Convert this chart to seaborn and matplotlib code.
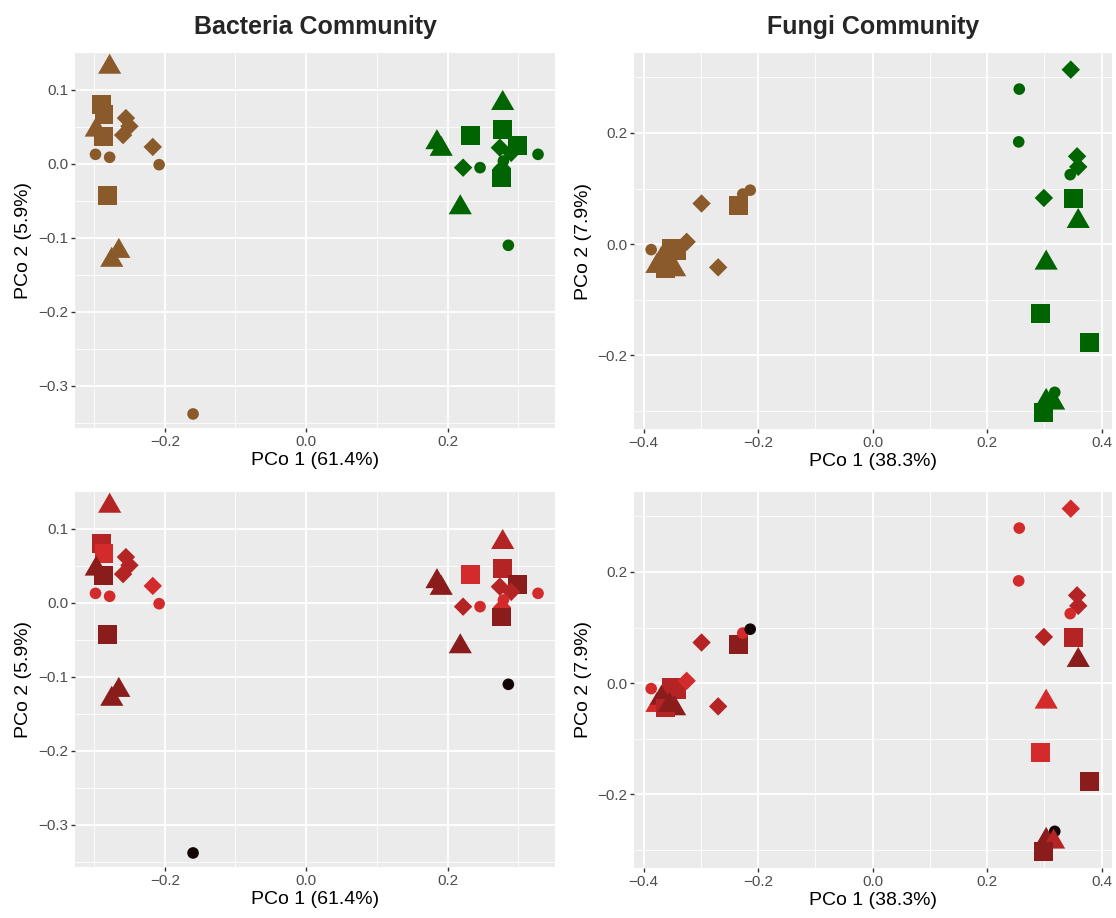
import numpy as np
import pandas as pd
import matplotlib
matplotlib.use("Agg")
import matplotlib.pyplot as plt
import seaborn as sns

# ---------------- data ----------------
# Bacteria community (PCo1 61.4%, PCo2 5.9%)
bac_x = [-0.278, -0.290, -0.286, -0.297, -0.287, -0.255, -0.250, -0.259, -0.217,
         -0.298, -0.278, -0.208, -0.281, -0.265, -0.275, -0.160,
         0.278, 0.278, 0.233, 0.185, 0.191, 0.299, 0.274, 0.290, 0.328,
         0.277, 0.279, 0.222, 0.246, 0.276, 0.218, 0.286]
bac_y = [0.131, 0.080, 0.067, 0.046, 0.037, 0.062, 0.051, 0.039, 0.023,
         0.013, 0.009, -0.001, -0.043, -0.118, -0.130, -0.338,
         0.082, 0.047, 0.038, 0.029, 0.020, 0.025, 0.022, 0.015, 0.013,
         -0.006, 0.004, -0.005, -0.005, -0.019, -0.059, -0.110]
bac_shape = ["tri", "sq", "sq", "tri", "sq", "dia", "dia", "dia", "dia",
             "circ", "circ", "circ", "sq", "tri", "tri", "circ",
             "tri", "sq", "sq", "tri", "tri", "sq", "dia", "dia", "circ",
             "dia", "circ", "dia", "circ", "sq", "tri", "circ"]
bac_group = ["brown"] * 16 + ["green"] * 16
bac_shade = ["m", "m", "b", "d", "d", "m", "m", "m", "b",
             "b", "b", "b", "d", "d", "d", "k",
             "m", "m", "b", "d", "d", "d", "m", "m", "b",
             "b", "b", "m", "b", "d", "d", "k"]

# Fungi community (PCo1 38.3%, PCo2 7.9%)
fun_x = [-0.387, -0.352, -0.343, -0.325, -0.299, -0.270, -0.235, -0.227, -0.214,
         -0.377, -0.369, -0.346, -0.362, -0.355,
         0.346, 0.256, 0.255, 0.357, 0.359, 0.345, 0.299, 0.351, 0.359,
         0.303, 0.293, 0.379, 0.318, 0.303, 0.316, 0.299]
fun_y = [-0.010, -0.008, -0.012, 0.004, 0.073, -0.042, 0.070, 0.090, 0.097,
         -0.040, -0.027, -0.046, -0.045, -0.040,
         0.314, 0.279, 0.184, 0.158, 0.139, 0.125, 0.083, 0.082, 0.041,
         -0.034, -0.125, -0.177, -0.267, -0.283, -0.286, -0.303]
fun_shape = ["circ", "sq", "sq", "dia", "dia", "dia", "sq", "circ", "circ",
             "tri", "tri", "tri", "sq", "tri",
             "dia", "circ", "circ", "dia", "dia", "circ", "dia", "sq", "tri",
             "tri", "sq", "sq", "circ", "tri", "tri", "sq"]
fun_group = ["brown"] * 14 + ["green"] * 16
fun_shade = ["b", "m", "m", "b", "m", "m", "d", "b", "k",
             "b", "d", "d", "m", "d",
             "b", "b", "b", "m", "m", "b", "m", "m", "d",
             "b", "b", "d", "k", "d", "m", "d"]

titles = ["Bacteria Community", "Fungi Community"]
xlabels = ["PCo 1 (61.4%)", "PCo 1 (38.3%)"]
ylabels = ["PCo 2 (5.9%)", "PCo 2 (7.9%)"]

group_pal = {"brown": "#8B5A2B", "green": "#006400"}
shade_pal = {"b": "#D32B2B", "m": "#B42424", "d": "#8B1C1C", "k": "#120606"}

tri_verts = [(0, 0.577), (-0.5, -0.289), (0.5, -0.289), (0, 0.577)]
markers = {"circ": "o", "sq": "s", "dia": "D", "tri": tri_verts}
sizes = {"circ": 70, "sq": 185, "dia": 88, "tri": 370}

bac = pd.DataFrame({"x": bac_x, "y": bac_y, "shape": bac_shape,
                    "group": bac_group, "shade": bac_shade})
fun = pd.DataFrame({"x": fun_x, "y": fun_y, "shape": fun_shape,
                    "group": fun_group, "shade": fun_shade})

# ---------------- figure ----------------
sns.set_theme(style="darkgrid")
plt.rcParams["font.family"] = ["Liberation Sans", "DejaVu Sans"]

W, H = 1116, 918
fig = plt.figure(figsize=(W / 100, H / 100), dpi=100)
fig.patch.set_facecolor("white")


def add_ax(l, r, t, b):
    return fig.add_axes([l / W, 1 - b / H, (r - l) / W, (b - t) / H])


axes = [
    [add_ax(75, 555, 53, 428), add_ax(634, 1112, 53, 429)],
    [add_ax(75, 555, 492, 867), add_ax(634, 1112, 492, 868)],
]

cfg = [
    dict(df=bac, xlim=(-0.327, 0.352), ylim=(-0.357, 0.150),
         xt=[-0.2, 0.0, 0.2], xm=[-0.3, -0.1, 0.1, 0.3],
         yt=[-0.3, -0.2, -0.1, 0.0, 0.1], ym=[-0.35, -0.25, -0.15, -0.05, 0.05]),
    dict(df=fun, xlim=(-0.417, 0.418), ylim=(-0.333, 0.344),
         xt=[-0.4, -0.2, 0.0, 0.2, 0.4], xm=[-0.3, -0.1, 0.1, 0.3],
         yt=[-0.2, 0.0, 0.2], ym=[-0.3, -0.1, 0.1, 0.3]),
]

for row in range(2):
    for col in range(2):
        ax = axes[row][col]
        c = cfg[col]
        df = c["df"]
        if row == 0:
            sns.scatterplot(data=df, x="x", y="y", hue="group", palette=group_pal,
                            style="shape", markers=markers, size="shape", sizes=sizes,
                            linewidth=0, legend=False, ax=ax, zorder=3)
        else:
            sns.scatterplot(data=df, x="x", y="y", hue="shade", palette=shade_pal,
                            style="shape", markers=markers, size="shape", sizes=sizes,
                            linewidth=0, legend=False, ax=ax, zorder=3)
        ax.set_facecolor("#EBEBEB")
        ax.set_xlim(*c["xlim"])
        ax.set_ylim(*c["ylim"])
        ax.set_xticks(c["xt"])
        ax.set_yticks(c["yt"])
        ax.set_xticklabels([("%.1f" % v).replace("-", "\u2212") for v in c["xt"]])
        ax.set_yticklabels([("%.1f" % v).replace("-", "\u2212") for v in c["yt"]])
        ax.set_xticks(c["xm"], minor=True)
        ax.set_yticks(c["ym"], minor=True)
        ax.grid(which="major", color="white", linewidth=1.3)
        ax.grid(which="minor", color="white", linewidth=0.6)
        ax.set_axisbelow(True)
        for s in ax.spines.values():
            s.set_visible(False)
        ax.tick_params(which="major", length=3, width=1, color="#333333",
                       labelsize=11, labelcolor="#4D4D4D", pad=2,
                       bottom=True, left=True)
        ax.tick_params(which="minor", length=0)
        ax.set_xlabel(xlabels[col], fontsize=14, color="black", labelpad=2)
        ax.set_ylabel(ylabels[col], fontsize=14, color="black", labelpad=4)
        if row == 0:
            ax.set_title(titles[col], fontsize=18, fontweight="bold", pad=14)

fig.savefig("out.png", dpi=100, facecolor="white")
